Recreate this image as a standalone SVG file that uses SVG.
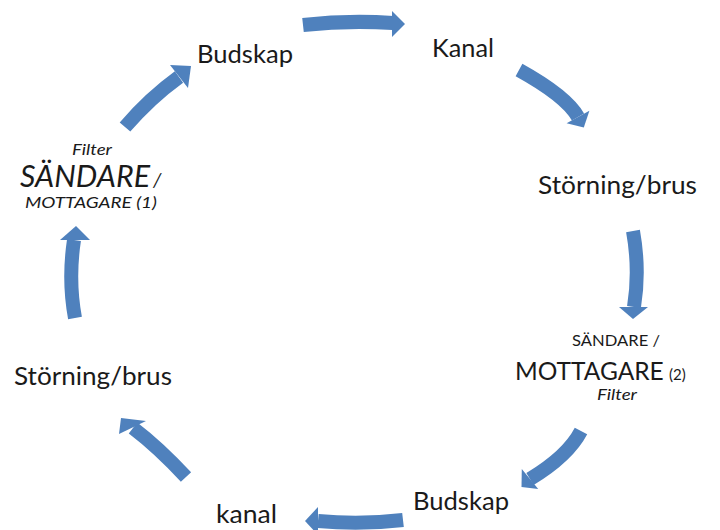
<svg xmlns="http://www.w3.org/2000/svg" width="720" height="530" viewBox="0 0 720 530">
<style>
.t{font-family:Lato,"Open Sans","Liberation Sans",sans-serif;fill:#1a1a1a}
.n{font-size:25px}
.i{font-style:italic}
.s{fill:none;stroke:#4f81bd;stroke-width:14}
.h{fill:#4f81bd}
</style>
<rect width="720" height="530" fill="#ffffff"/>
<g id="connectors">
<path class="s" d="M303,25 Q348,20 393,23"/><polygon class="h" points="392,11 405,24 392,37"/>
<path class="s" d="M519,70 Q566,96 578,117"/><polygon class="h" points="589.4,110.8 583.8,127.6 566.6,123.2"/>
<path class="s" d="M633,231 Q640,270 634,307"/><polygon class="h" points="619,307 633,319 648,307"/>
<path class="s" d="M581,431 Q568,456 530,479"/><polygon class="h" points="538.2,489 521.5,487 521.8,469"/>
<path class="s" d="M403,520 Q360,525 318,521"/><polygon class="h" points="318,507 305,521 318,535"/>
<path class="s" d="M186,477 Q158,447 133,428"/><polygon class="h" points="146,421 121,418 119,434"/>
<path class="s" d="M75,318 Q68,280 74,240"/><polygon class="h" points="60,240 76,226 90,240"/>
<path class="s" d="M125,127 Q150,98 179,77"/><polygon class="h" points="170,65 191,66 188,88"/>
</g>
<g id="budskap1"><text class="t n" x="197" y="63" textLength="96" lengthAdjust="spacingAndGlyphs">Budskap</text></g>
<g id="kanal1"><text class="t n" x="432" y="57" textLength="62" lengthAdjust="spacingAndGlyphs">Kanal</text></g>
<g id="storning1"><text class="t n" x="538" y="194" textLength="159" lengthAdjust="spacingAndGlyphs">Störning/brus</text></g>
<g id="sm2">
<text class="t" x="572" y="346" font-size="16" textLength="88" lengthAdjust="spacingAndGlyphs">SÄNDARE /</text>
<text class="t" x="515" y="380" font-size="24.5">MOTTAGARE</text>
<text class="t" x="669" y="380" font-size="15">(2)</text>
<text class="t i" x="597" y="400" font-size="15" textLength="40" lengthAdjust="spacingAndGlyphs">Filter</text>
</g>
<g id="budskap2"><text class="t n" x="413" y="510" textLength="96" lengthAdjust="spacingAndGlyphs">Budskap</text></g>
<g id="kanal2"><text class="t n" x="216" y="523" textLength="61" lengthAdjust="spacingAndGlyphs">kanal</text></g>
<g id="storning2"><text class="t n" x="14" y="385" textLength="158" lengthAdjust="spacingAndGlyphs">Störning/brus</text></g>
<g id="sm1">
<text class="t i" x="72" y="155" font-size="15" textLength="40" lengthAdjust="spacingAndGlyphs">Filter</text>
<text class="t i" x="20" y="187" font-size="30" textLength="130" lengthAdjust="spacingAndGlyphs">SÄNDARE</text>
<text class="t i" x="153" y="187" font-size="20">/</text>
<text class="t i" x="25" y="208" font-size="16" textLength="132" lengthAdjust="spacingAndGlyphs">MOTTAGARE (1)</text>
</g>
</svg>
